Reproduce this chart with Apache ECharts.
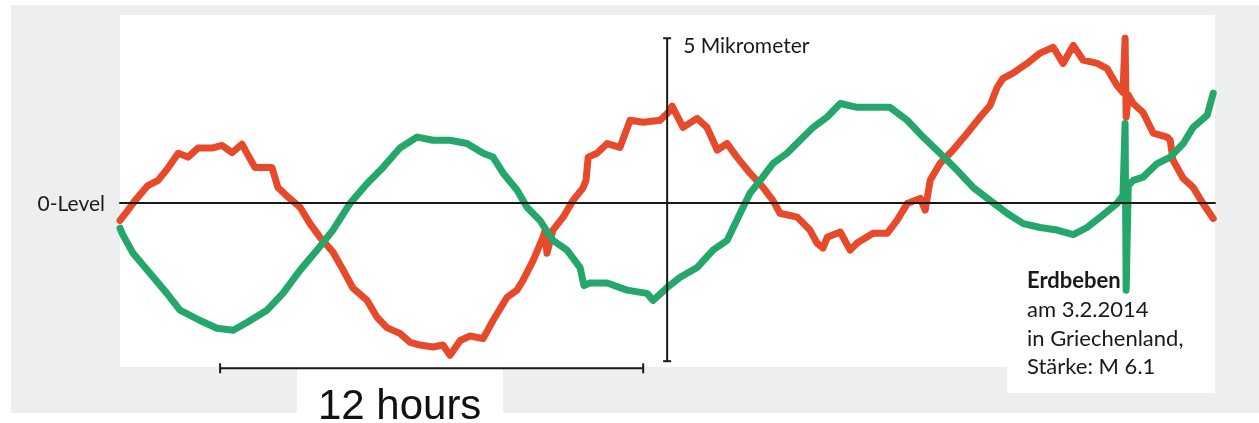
<!DOCTYPE html>
<html>
<head>
<meta charset="utf-8">
<script src="https://cdn.jsdelivr.net/npm/echarts@6/dist/echarts.min.js"></script>
<style>
html,body{margin:0;padding:0;background:#ffffff;}
#chart{width:1259px;height:423px;}
</style>
</head>
<body>
<div id="chart"></div>
<script>
// time in hours from the left edge, displacement in micrometers
const redTime = [0.00,0.23,0.43,0.79,1.08,1.36,1.65,1.93,2.21,2.61,2.89,3.18,3.46,3.63,3.83,4.11,4.31,4.48,4.77,5.11,5.39,5.67,6.04,6.33,6.61,7.01,7.29,7.57,7.94,8.23,8.51,8.88,9.16,9.36,9.65,9.93,10.30,10.58,10.98,11.26,11.43,11.72,12.00,12.06,12.11,12.28,12.57,12.85,13.13,13.22,13.28,13.53,13.82,14.18,14.47,14.84,15.32,15.55,15.66,15.97,16.37,16.65,16.94,17.22,17.50,17.87,18.24,18.52,18.72,19.21,19.57,19.77,19.94,20.06,20.43,20.71,20.91,21.36,21.76,22.04,22.33,22.70,22.84,22.98,23.26,23.63,24.03,24.40,24.68,24.88,25.05,25.33,25.73,26.10,26.47,26.75,27.04,27.32,27.72,28.00,28.28,28.45,28.51,28.54,28.60,28.74,29.02,29.31,29.70,29.79,29.87,30.16,30.44,30.72,31.01];
const redValue = [-0.28,-0.12,0.03,0.26,0.34,0.53,0.76,0.70,0.84,0.84,0.88,0.77,0.90,0.73,0.54,0.54,0.54,0.23,0.08,-0.08,-0.33,-0.54,-0.77,-1.05,-1.33,-1.52,-1.78,-1.94,-2.03,-2.17,-2.21,-2.24,-2.21,-2.37,-2.14,-2.07,-2.11,-1.83,-1.47,-1.36,-1.21,-0.90,-0.54,-0.43,-0.79,-0.43,-0.23,0.03,0.22,0.34,0.70,0.76,0.91,0.85,1.27,1.24,1.27,1.39,1.49,1.16,1.30,1.16,0.81,0.91,0.70,0.45,0.23,0.03,-0.17,-0.23,-0.43,-0.63,-0.71,-0.54,-0.46,-0.74,-0.63,-0.48,-0.48,-0.28,-0.02,0.06,-0.12,0.34,0.60,0.81,1.07,1.32,1.50,1.78,1.92,2.00,2.15,2.31,2.40,2.15,2.43,2.20,2.15,2.07,1.81,1.70,2.54,1.32,1.66,1.53,1.39,1.07,1.01,0.96,0.65,0.37,0.23,-0.02,-0.25];
const greenTime = [0.00,0.06,0.37,0.85,1.33,1.70,2.27,2.75,3.21,3.60,4.17,4.62,5.11,5.59,6.04,6.52,7.01,7.46,7.94,8.43,8.88,9.36,9.84,10.30,10.58,10.87,11.26,11.55,11.91,12.28,12.68,13.05,13.16,13.33,13.82,14.38,14.95,15.12,15.52,15.89,16.37,16.82,17.22,17.59,17.87,18.16,18.52,18.92,19.29,19.66,20.06,20.43,20.91,21.36,21.84,22.33,22.78,23.26,23.74,24.20,24.68,25.16,25.62,26.10,26.58,27.04,27.43,27.80,28.28,28.45,28.51,28.54,28.60,28.74,29.02,29.42,29.79,30.16,30.44,30.84,31.01];
const greenValue = [-0.40,-0.48,-0.79,-1.10,-1.41,-1.67,-1.83,-1.95,-1.98,-1.86,-1.67,-1.41,-1.05,-0.74,-0.43,-0.02,0.29,0.54,0.84,1.01,0.96,0.96,0.91,0.76,0.70,0.45,0.19,-0.08,-0.28,-0.59,-0.74,-1.01,-1.29,-1.25,-1.25,-1.36,-1.41,-1.52,-1.32,-1.16,-1.01,-0.74,-0.59,-0.17,0.14,0.34,0.60,0.76,0.96,1.16,1.32,1.53,1.47,1.47,1.47,1.27,1.01,0.76,0.50,0.23,0.03,-0.17,-0.33,-0.39,-0.43,-0.50,-0.39,-0.23,-0.02,0.11,1.22,-1.36,0.26,0.34,0.39,0.60,0.70,0.91,1.16,1.35,1.69];

// axis extents and scale annotations (data units)
const xRange = [0, 31.06];
const yRange = [-2.55, 2.9];
const scaleBar = {hour: 15.52, from: -2.46, to: 2.54, label: '5 Mikrometer'};
const hoursBar = {from: 2.84, to: 14.84, level: -2.57, label: '12 hours'};
const zeroLabel = '0-Level';
const quakeNote = ['Erdbeben', 'am 3.2.2014', 'in Griechenland,', 'Stärke: M 6.1'];

const pair = (t, v) => t.map((x, i) => [x, v[i]]);

const chart = echarts.init(document.getElementById('chart'), null, {renderer: 'canvas'});
const baseFont = 'Lato, "Open Sans", sans-serif';

chart.setOption({
  animation: false,
  backgroundColor: 'transparent',
  grid: {left: 120, right: 44, top: 15, bottom: 56, show: true, backgroundColor: '#ffffff', borderWidth: 0},
  xAxis: {
    type: 'value', min: xRange[0], max: xRange[1], z: 5,
    axisLine: {onZero: true, lineStyle: {color: '#1a1a1a', width: 2}},
    axisTick: {show: false}, axisLabel: {show: false}, splitLine: {show: false}
  },
  yAxis: {
    type: 'value', min: yRange[0], max: yRange[1],
    axisLine: {show: false}, axisTick: {show: false}, axisLabel: {show: false}, splitLine: {show: false}
  },
  series: [
    {type: 'line', data: pair(redTime, redValue), showSymbol: false, symbol: 'none', z: 2,
     lineStyle: {color: '#e64a2b', width: 7, join: 'round', cap: 'round'}},
    {type: 'line', data: pair(greenTime, greenValue), showSymbol: false, symbol: 'none', z: 3,
     lineStyle: {color: '#25a76b', width: 7, join: 'round', cap: 'round'}}
  ]
});

const px = (x, y) => chart.convertToPixel({gridIndex: 0}, [x, y]);
const zeroPx = px(0, 0);
const sTop = px(scaleBar.hour, scaleBar.to);
const sBot = px(scaleBar.hour, scaleBar.from);
const hL = px(hoursBar.from, hoursBar.level);
const hR = px(hoursBar.to, hoursBar.level);
const gridBot = px(0, yRange[0])[1];
const gridRight = px(xRange[1], 0)[0];
const lineStyle = {stroke: '#1a1a1a', lineWidth: 2};

const graphics = [
  // gray page panel behind the plot
  {type: 'rect', z: -10, silent: true, shape: {x: 11, y: 5, width: 1248, height: 408}, style: {fill: '#edefef'}},
  {type: 'rect', z: -9, silent: true, shape: {x: 297, y: gridBot - 1, width: 206, height: 60}, style: {fill: '#ffffff'}},
  {type: 'rect', z: -9, silent: true, shape: {x: 1007, y: gridBot - 1, width: gridRight - 1007, height: 27}, style: {fill: '#ffffff'}},
  // zero label
  {type: 'text', z: 10, style: {x: 105, y: zeroPx[1] + 2, text: zeroLabel, align: 'right', verticalAlign: 'middle',
    font: '21px ' + baseFont, fill: '#1a1a1a'}},
  // vertical scale bar
  {type: 'line', z: 10, shape: {x1: sTop[0], y1: sTop[1], x2: sBot[0], y2: sBot[1]}, style: lineStyle},
  {type: 'line', z: 10, shape: {x1: sTop[0] - 4, y1: sTop[1], x2: sTop[0] + 4, y2: sTop[1]}, style: lineStyle},
  {type: 'line', z: 10, shape: {x1: sBot[0] - 4, y1: sBot[1], x2: sBot[0] + 4, y2: sBot[1]}, style: lineStyle},
  {type: 'text', z: 10, style: {x: sTop[0] + 16, y: sTop[1] + 8, text: scaleBar.label, align: 'left', verticalAlign: 'middle',
    font: '21px ' + baseFont, fill: '#1a1a1a'}},
  // 12 hours bar
  {type: 'line', z: 10, shape: {x1: hL[0], y1: hL[1], x2: hR[0], y2: hR[1]}, style: lineStyle},
  {type: 'line', z: 10, shape: {x1: hL[0], y1: hL[1] - 5, x2: hL[0], y2: hL[1] + 5}, style: lineStyle},
  {type: 'line', z: 10, shape: {x1: hR[0], y1: hR[1] - 5, x2: hR[0], y2: hR[1] + 5}, style: lineStyle},
  {type: 'text', z: 10, style: {x: (hL[0] + hR[0]) / 2 - 32, y: 407, text: hoursBar.label, align: 'center', verticalAlign: 'middle',
    font: '42px "Liberation Sans", Arial, sans-serif', fill: '#111111'}}
];
// earthquake note
const noteX = 1027;
const noteY = [281, 310, 339, 367];
quakeNote.forEach((t, i) => {
  graphics.push({type: 'text', z: 10, style: {x: noteX, y: noteY[i], text: t, align: 'left', verticalAlign: 'middle',
    font: (i === 0 ? 'bold ' : '') + '22px ' + baseFont, fill: '#1a1a1a'}});
});
chart.setOption({graphic: graphics});
</script>
</body>
</html>
